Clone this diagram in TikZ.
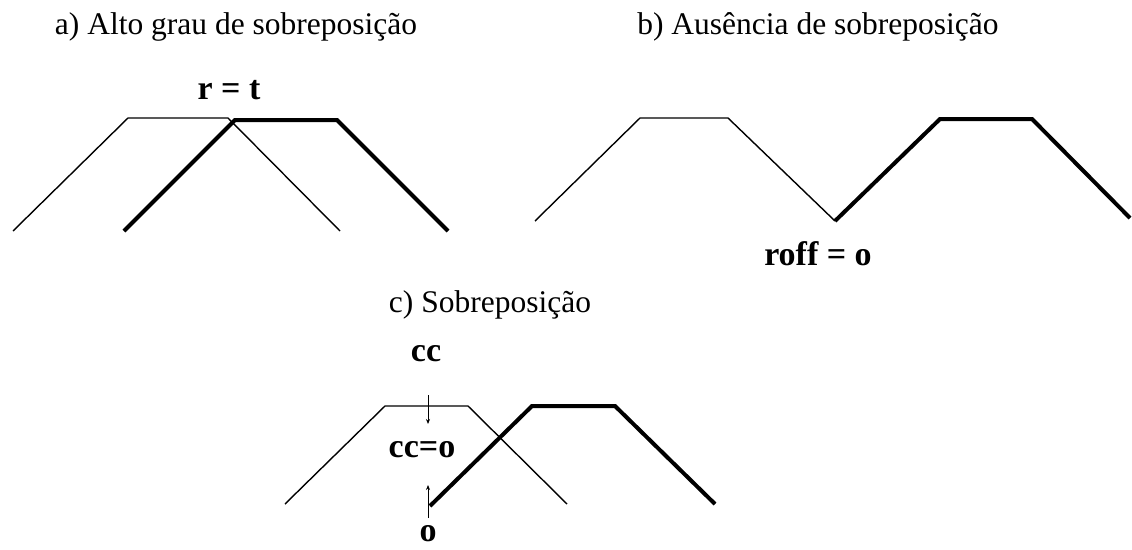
\documentclass[tikz,border=0pt]{standalone}
\usepackage{fontspec}
\setmainfont{Liberation Serif}
\usetikzlibrary{arrows.meta}

\begin{document}
\begin{tikzpicture}
  [x=1pt,y=-1pt,line join=miter,
   thin/.style={line width=1.4pt},
   thick/.style={line width=4pt},
   title/.style={inner sep=0pt,font=\fontsize{31.5}{36}\selectfont},
   lbl/.style={inner sep=0pt,font=\fontsize{34}{38}\selectfont\bfseries}]
  \useasboundingbox (0,0) rectangle (1132,549);
  % a) alto grau
  \node[title] (ta) at (236,27) {a) Alto grau de sobreposição};
  \node[lbl] (rt) at (229,90) {r = t};
  \draw[thin] (13,231) -- (128,118) -- (228,118) -- (340,231);
  \draw[thick] (124,231) -- (235,120) -- (337,120) -- (448,231);
  % b) ausencia
  \node[title] (tb) at (818,27) {b) Ausência de sobreposição};
  \node[lbl] (ro) at (818,254) {roff = o};
  \draw[thin] (535,221) -- (640,118) -- (728,118) -- (835,221);
  \draw[thick] (835,221) -- (940,119) -- (1032,119) -- (1130,218);
  % c) sobreposicao
  \node[title] (tc) at (490,305) {c) Sobreposição};
  \node[lbl] (cc) at (426,354) {cc};
  \node[lbl] (cz) at (422,450) {cc=o};
  \node[lbl] (oo) at (428,534) {o};
  \draw[thin] (285,504) -- (385,406) -- (468,406) -- (567,504);
  \draw[thick] (430,506) -- (532,406) -- (615,406) -- (715,504);
  \coordinate (a1) at (428,395);
  \coordinate (a2) at (428,424);
  \coordinate (b1) at (428,518);
  \coordinate (b2) at (428,485);
  \foreach \from/\to in {a1/a2,b1/b2}
    \draw[line width=0.8pt,-{Stealth[length=5pt,width=4pt]}] (\from) -- (\to);
\end{tikzpicture}
\end{document}
